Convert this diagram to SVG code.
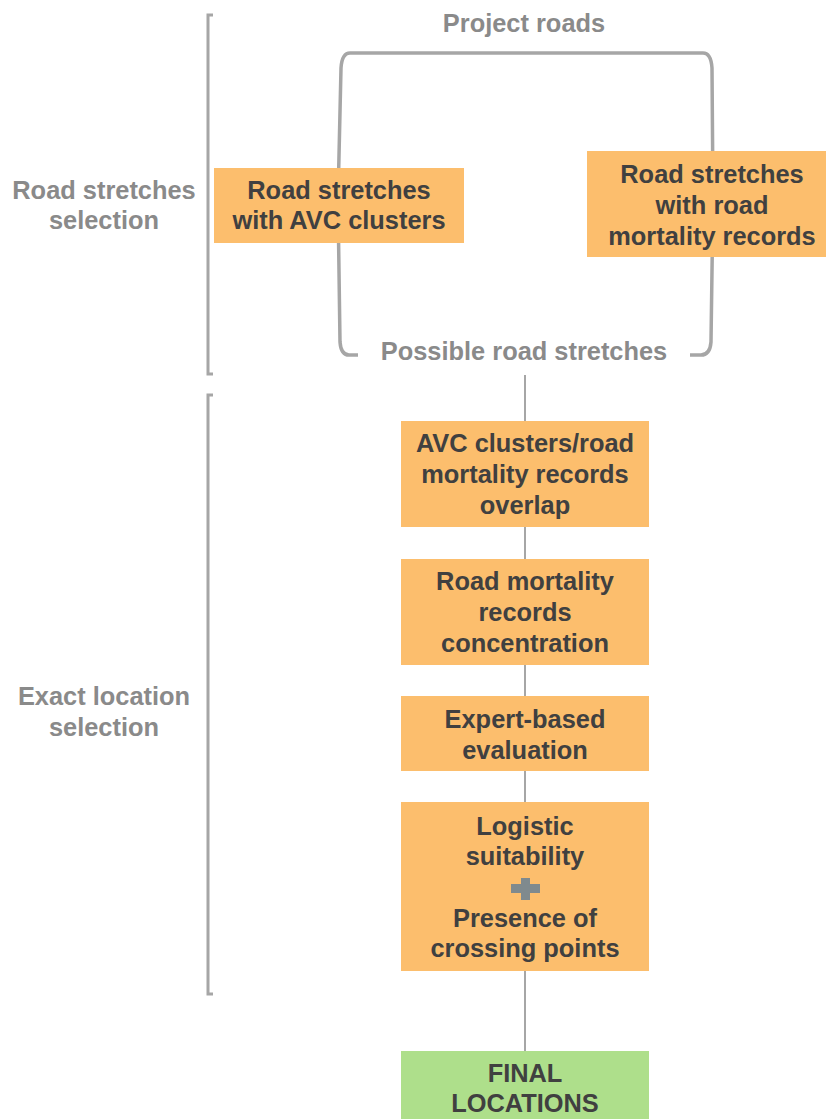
<svg xmlns="http://www.w3.org/2000/svg" width="826" height="1119" viewBox="0 0 826 1119">
<style>
.t{font-family:"Liberation Sans",Arial,sans-serif;font-weight:bold;font-size:25.4px;fill:#404040;text-anchor:middle}
.g{font-family:"Liberation Sans",Arial,sans-serif;font-weight:bold;font-size:25.4px;fill:#8a8a8a;text-anchor:middle}
.br{fill:none;stroke:#a6a6a6;stroke-width:3}
.bb{fill:none;stroke:#a6a6a6;stroke-width:3.5}
.ln{fill:none;stroke:#a6a6a6;stroke-width:2}
.o{fill:#fcbe6d}
.f{fill:#aedf8b}
</style>
<rect width="826" height="1119" fill="#ffffff"/>
<g id="brackets">
<path class="br" d="M213,15 L208,15 L208,374 L213,374"/>
<path class="br" d="M213,395 L208,395 L208,994 L213,994"/>
<path class="bb" d="M358,355 L349,355 Q341,355 340,342 L338,200 L341,68 Q342,53 350,53 L703,53 Q711,53 712,68 L713,200 L711,342 Q710,355 701,355 L690,355"/>
</g>
<g id="connectors">
<line class="ln" x1="525" y1="375" x2="525" y2="1051"/>
</g>
<g id="labels">
<text class="g" x="524" y="32">Project roads</text>
<text class="g" x="524" y="360">Possible road stretches</text>
<text class="g" x="104" y="199">Road stretches</text>
<text class="g" x="104" y="229">selection</text>
<text class="g" x="104" y="705">Exact location</text>
<text class="g" x="104" y="736">selection</text>
</g>
<g id="node-avc">
<rect class="o" x="214" y="168" width="250" height="75"/>
<text class="t" x="339" y="199">Road stretches</text>
<text class="t" x="339" y="229">with AVC clusters</text>
</g>
<g id="node-mortality">
<rect class="o" x="587" y="151" width="239" height="106"/>
<text class="t" x="712" y="183">Road stretches</text>
<text class="t" x="712" y="214">with road</text>
<text class="t" x="712" y="245">mortality records</text>
</g>
<g id="node-overlap">
<rect class="o" x="401" y="421" width="248" height="106"/>
<text class="t" x="525" y="452">AVC clusters/road</text>
<text class="t" x="525" y="483">mortality records</text>
<text class="t" x="525" y="514">overlap</text>
</g>
<g id="node-concentration">
<rect class="o" x="401" y="559" width="248" height="106"/>
<text class="t" x="525" y="590">Road mortality</text>
<text class="t" x="525" y="621">records</text>
<text class="t" x="525" y="652">concentration</text>
</g>
<g id="node-expert">
<rect class="o" x="401" y="696" width="248" height="75"/>
<text class="t" x="525" y="728">Expert-based</text>
<text class="t" x="525" y="759">evaluation</text>
</g>
<g id="node-logistic">
<rect class="o" x="401" y="802" width="248" height="169"/>
<text class="t" x="525" y="835">Logistic</text>
<text class="t" x="525" y="865">suitability</text>
<rect x="511" y="884" width="29" height="9" fill="#7f8a8e"/>
<rect x="521" y="878" width="9" height="22" fill="#7f8a8e"/>
<text class="t" x="525" y="927">Presence of</text>
<text class="t" x="525" y="957">crossing points</text>
</g>
<g id="node-final">
<rect class="f" x="401" y="1051" width="248" height="68"/>
<text class="t" x="525" y="1082">FINAL</text>
<text class="t" x="525" y="1112">LOCATIONS</text>
</g>
</svg>
